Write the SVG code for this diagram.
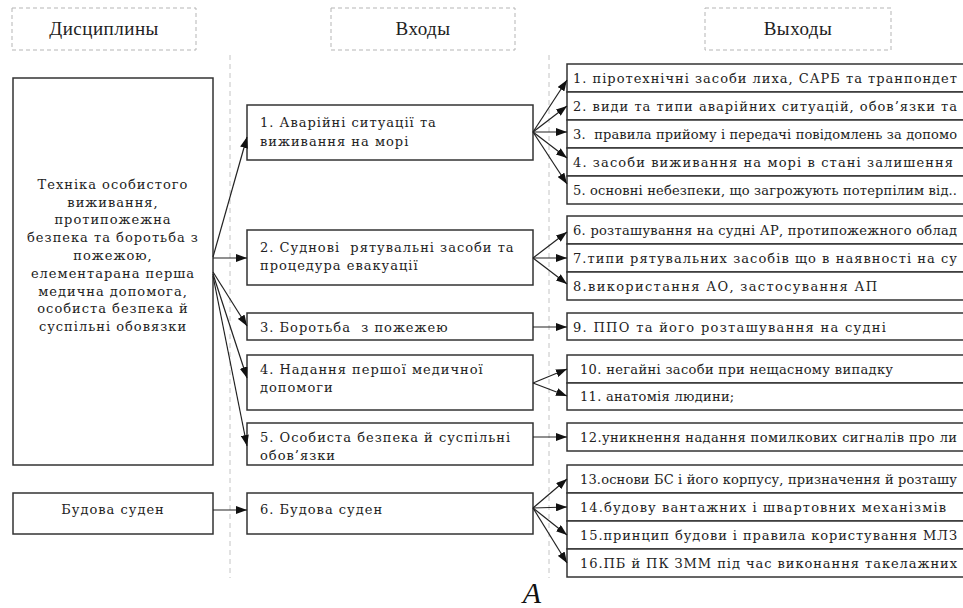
<svg xmlns="http://www.w3.org/2000/svg" width="963" height="608" viewBox="0 0 963 608">
<style>
.hdr{fill:#fff;stroke:#b5b5b5;stroke-width:1;stroke-dasharray:4 3}
.vl{stroke:#c4c4c4;stroke-width:1;stroke-dasharray:5 4;fill:none}
.bx{fill:#fff;stroke:#333;stroke-width:1.5}
.t{font-family:"DejaVu Serif","Liberation Serif",serif;font-size:13px;letter-spacing:1px;fill:#222;white-space:pre}
.h{font-family:"Liberation Serif","DejaVu Serif",serif;font-size:19px;letter-spacing:0.5px;fill:#222;text-anchor:middle}
.c{text-anchor:middle}
.ar{stroke:#222;stroke-width:1.2;fill:none;marker-end:url(#ah)}
</style>
<defs>
<marker id="ah" markerUnits="userSpaceOnUse" markerWidth="11" markerHeight="8" refX="11" refY="4" orient="auto">
<path d="M0,0 L11,4 L0,8 z" fill="#111"/>
</marker>
</defs>
<rect width="963" height="608" fill="#fff"/>
<g id="headers">
<rect class="hdr" x="12" y="8" width="184" height="42"/>
<text class="h" x="104" y="35">Дисциплины</text>
<rect class="hdr" x="331" y="8" width="184" height="42"/>
<text class="h" x="423" y="35">Входы</text>
<rect class="hdr" x="705" y="8" width="186" height="42"/>
<text class="h" x="798" y="35">Выходы</text>
</g>
<g id="dividers">
<line class="vl" x1="230" y1="55" x2="230" y2="578"/>
<line class="vl" x1="549" y1="55" x2="549" y2="578"/>
</g>
<g id="disc1">
<rect class="bx" x="13" y="78" width="200" height="387"/>
<text class="t c" x="113"><tspan x="113" y="189">Техніка особистого</tspan><tspan x="113" y="207">виживання,</tspan><tspan x="113" y="224">протипожежна</tspan><tspan x="113" y="242">безпека та боротьба з</tspan><tspan x="113" y="260">пожежою,</tspan><tspan x="113" y="278">елементарана перша</tspan><tspan x="113" y="296">медична допомога,</tspan><tspan x="113" y="313">особиста безпека й</tspan><tspan x="113" y="331">суспільні обовязки</tspan></text>
</g>
<g id="disc2">
<rect class="bx" x="13" y="493" width="200" height="41"/>
<text class="t c" x="113" y="514">Будова суден</text>
</g>
<g id="in1"><rect class="bx" x="247" y="105" width="286" height="55"/><text class="t"><tspan x="260" y="127">1. Аварійні ситуації та</tspan><tspan x="260" y="146">виживання на морі</tspan></text></g>
<g id="in2"><rect class="bx" x="247" y="230" width="286" height="55"/><text class="t"><tspan x="260" y="252">2. Суднові  рятувальні засоби та</tspan><tspan x="260" y="270">процедура евакуації</tspan></text></g>
<g id="in3"><rect class="bx" x="247" y="313" width="286" height="27"/><text class="t" x="260" y="332">3. Боротьба  з пожежею</text></g>
<g id="in4"><rect class="bx" x="247" y="355" width="286" height="55"/><text class="t"><tspan x="260" y="374">4. Надання першої медичної</tspan><tspan x="260" y="392">допомоги</tspan></text></g>
<g id="in5"><rect class="bx" x="247" y="423" width="286" height="42"/><text class="t"><tspan x="260" y="442">5. Особиста безпека й суспільні</tspan><tspan x="260" y="460">обов’язки</tspan></text></g>
<g id="in6"><rect class="bx" x="247" y="493" width="286" height="41"/><text class="t" x="260" y="514">6. Будова суден</text></g>
<g id="out1"><rect class="bx" x="567" y="64" width="420" height="28"/><text class="t" x="573" y="83" textLength="385" lengthAdjust="spacing">1. піротехнічні засоби лиха, САРБ та транпондет</text></g>
<g id="out2"><rect class="bx" x="567" y="92" width="420" height="28"/><text class="t" x="573" y="111" textLength="385" lengthAdjust="spacing">2. види та типи аварійних ситуацій, обов’язки та</text></g>
<g id="out3"><rect class="bx" x="567" y="120" width="420" height="28"/><text class="t" x="573" y="139" textLength="385" lengthAdjust="spacing">3.  правила прийому і передачі повідомлень за допомо</text></g>
<g id="out4"><rect class="bx" x="567" y="148" width="420" height="28"/><text class="t" x="573" y="167" textLength="381" lengthAdjust="spacing">4. засоби виживання на морі в стані залишення</text></g>
<g id="out5"><rect class="bx" x="567" y="176" width="420" height="28"/><text class="t" x="573" y="195" textLength="385" lengthAdjust="spacing">5. основні небезпеки, що загрожують потерпілим від..</text></g>
<g id="out6"><rect class="bx" x="567" y="216" width="420" height="28"/><text class="t" x="573" y="235" textLength="385" lengthAdjust="spacing">6. розташування на судні АР, протипожежного облад</text></g>
<g id="out7"><rect class="bx" x="567" y="244" width="420" height="28"/><text class="t" x="573" y="263" textLength="385" lengthAdjust="spacing">7.типи рятувальних засобів що в наявності на су</text></g>
<g id="out8"><rect class="bx" x="567" y="272" width="420" height="28"/><text class="t" x="573" y="291" textLength="305" lengthAdjust="spacing">8.використання АО, застосування АП</text></g>
<g id="out9"><rect class="bx" x="567" y="313" width="420" height="27"/><text class="t" x="573" y="332" textLength="314" lengthAdjust="spacing">9. ППО та його розташування на судні</text></g>
<g id="out10"><rect class="bx" x="567" y="355" width="420" height="28"/><text class="t" x="580" y="374" textLength="314" lengthAdjust="spacing">10. негайні засоби при нещасному випадку</text></g>
<g id="out11"><rect class="bx" x="567" y="383" width="420" height="27"/><text class="t" x="580" y="401" style="letter-spacing:0.3px">11. анатомія людини;</text></g>
<g id="out12"><rect class="bx" x="567" y="423" width="420" height="28"/><text class="t" x="580" y="442" textLength="378" lengthAdjust="spacing">12.уникнення надання помилкових сигналів про ли</text></g>
<g id="out13"><rect class="bx" x="567" y="465" width="420" height="28"/><text class="t" x="580" y="484" textLength="378" lengthAdjust="spacing">13.основи БС і його корпусу, призначення й розташу</text></g>
<g id="out14"><rect class="bx" x="567" y="493" width="420" height="28"/><text class="t" x="580" y="512" textLength="367" lengthAdjust="spacing">14.будову вантажних і швартовних механізмів</text></g>
<g id="out15"><rect class="bx" x="567" y="521" width="420" height="28"/><text class="t" x="580" y="540" textLength="378" lengthAdjust="spacing">15.принцип будови і правила користування МЛЗ</text></g>
<g id="out16"><rect class="bx" x="567" y="549" width="420" height="28"/><text class="t" x="580" y="568" textLength="378" lengthAdjust="spacing">16.ПБ й ПК ЗММ під час виконання такелажних</text></g>
<g id="connectors">
<line class="ar" x1="213" y1="257" x2="247" y2="137"/>
<line class="ar" x1="213" y1="258" x2="247" y2="258"/>
<line class="ar" x1="213" y1="272" x2="247" y2="326"/>
<line class="ar" x1="213" y1="274" x2="247" y2="378"/>
<line class="ar" x1="213" y1="276" x2="247" y2="446"/>
<line class="ar" x1="213" y1="510" x2="247" y2="510"/>
<line class="ar" x1="533" y1="132" x2="567" y2="80"/>
<line class="ar" x1="533" y1="132" x2="567" y2="106"/>
<line class="ar" x1="533" y1="132" x2="567" y2="132"/>
<line class="ar" x1="533" y1="132" x2="567" y2="158"/>
<line class="ar" x1="533" y1="132" x2="567" y2="184"/>
<line class="ar" x1="533" y1="258" x2="567" y2="232"/>
<line class="ar" x1="533" y1="258" x2="567" y2="258"/>
<line class="ar" x1="533" y1="258" x2="567" y2="284"/>
<line class="ar" x1="533" y1="327" x2="567" y2="327"/>
<line class="ar" x1="533" y1="383" x2="567" y2="369"/>
<line class="ar" x1="533" y1="383" x2="567" y2="396"/>
<line class="ar" x1="533" y1="437" x2="567" y2="437"/>
<line class="ar" x1="533" y1="508" x2="567" y2="479"/>
<line class="ar" x1="533" y1="508" x2="567" y2="507"/>
<line class="ar" x1="533" y1="508" x2="567" y2="535"/>
<line class="ar" x1="533" y1="508" x2="567" y2="563"/>
</g>
<text x="532" y="603" font-family="Liberation Serif, serif" font-style="italic" font-size="30" fill="#111" text-anchor="middle">А</text>
</svg>
